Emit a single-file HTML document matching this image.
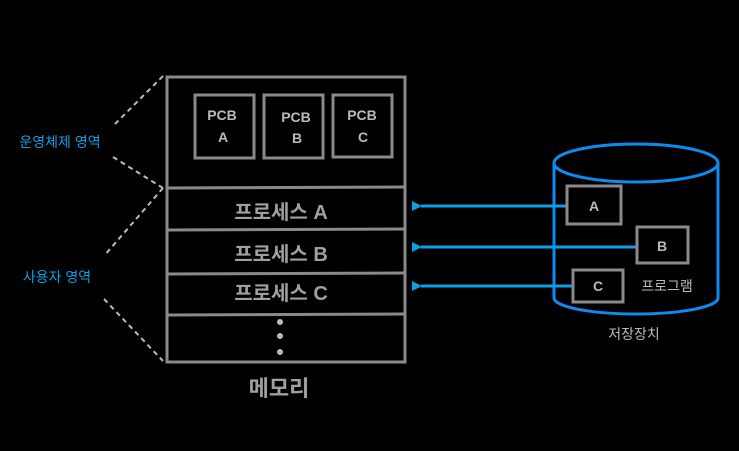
<!DOCTYPE html>
<html><head><meta charset="utf-8"><style>
body{margin:0;background:#000;width:739px;height:446px;overflow:hidden}
text{font-family:"Liberation Sans","Noto Sans CJK KR",sans-serif}
</style></head><body>
<svg width="739" height="446" viewBox="0 0 739 446">
<defs><marker id="ah" markerWidth="10" markerHeight="10" refX="1" refY="5" orient="auto" markerUnits="userSpaceOnUse"><path d="M10,0 L0,5 L10,10 Z" fill="#0aa0e6"/></marker></defs>
<g stroke="#bbb" stroke-width="2" stroke-dasharray="5,4" fill="none">
<line x1="163" y1="76" x2="113" y2="126"/>
<line x1="113" y1="157" x2="163" y2="188"/>
<line x1="163" y1="188" x2="104" y2="256"/>
<line x1="104" y1="299" x2="163" y2="361"/>
</g>
<text x="60" y="147" fill="#0aa0e6" font-size="14" text-anchor="middle">운영체제 영역</text>
<text x="57" y="282" fill="#0aa0e6" font-size="14" text-anchor="middle">사용자 영역</text>
<g stroke="#8a8a8a" stroke-width="3" fill="none">
<rect x="167" y="77" width="238" height="285"/>
<line x1="167" y1="188" x2="405" y2="187"/>
<line x1="167" y1="230" x2="405" y2="229"/>
<line x1="167" y1="274" x2="405" y2="273"/>
<line x1="167" y1="315" x2="405" y2="314"/>
<rect x="195" y="95" width="59" height="63"/>
<rect x="264" y="95" width="59" height="63"/>
<rect x="333" y="95" width="59" height="62"/>
</g>
<g fill="#bbb" font-size="14" font-weight="bold" text-anchor="middle">
<text x="222" y="120">PCB</text><text x="223" y="142">A</text>
<text x="296" y="122">PCB</text><text x="297" y="143">B</text>
<text x="362" y="120">PCB</text><text x="363" y="142">C</text>
</g>
<g fill="#a0a0a0" font-size="20" font-weight="bold" text-anchor="middle">
<text x="281" y="219">프로세스 A</text>
<text x="281" y="261">프로세스 B</text>
<text x="281" y="300">프로세스 C</text>
<text x="279" y="396" font-size="22">메모리</text>
</g>
<g fill="#bbb"><circle cx="280" cy="322" r="3"/><circle cx="280" cy="336" r="3"/><circle cx="280" cy="352" r="3"/></g>
<g stroke="#0a8cf0" stroke-width="3" fill="none">
<ellipse cx="636" cy="163" rx="82" ry="19"/>
<path d="M554,164 L554,298 A82,16 0 0 0 718,298 L718,164"/>
</g>
<g stroke="#0aa0e6" stroke-width="3" marker-end="url(#ah)">
<line x1="567" y1="206" x2="421" y2="206"/>
<line x1="637" y1="247" x2="421" y2="247"/>
<line x1="573" y1="286" x2="421" y2="286"/>
</g>
<g stroke="#8a8a8a" stroke-width="3" fill="#000">
<rect x="567" y="186" width="54" height="38"/>
<rect x="637" y="227" width="51" height="36"/>
<rect x="573" y="270" width="50" height="32"/>
</g>
<g fill="#bbb" font-size="14" font-weight="bold" text-anchor="middle">
<text x="594" y="211">A</text><text x="662" y="251">B</text><text x="598" y="291">C</text>
</g>
<text x="667" y="291" fill="#bbb" font-size="14" text-anchor="middle">프로그램</text>
<text x="634" y="339" fill="#bbb" font-size="14" text-anchor="middle">저장장치</text>
</svg>
</body></html>
